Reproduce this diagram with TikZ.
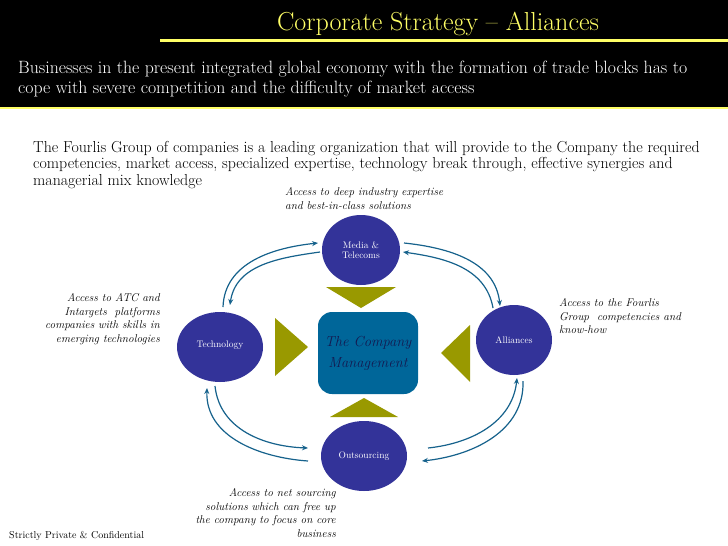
\documentclass[tikz,border=0pt]{standalone}
\usetikzlibrary{arrows.meta}
\definecolor{ttlyel}{RGB}{255,255,102}
\definecolor{circblue}{RGB}{51,51,153}
\definecolor{boxblue}{RGB}{0,102,153}
\definecolor{triolive}{RGB}{153,153,0}
\definecolor{arrblue}{RGB}{22,98,140}
\definecolor{mgmtnavy}{RGB}{20,25,80}
\begin{document}
\begin{tikzpicture}[x=1pt,y=1pt,
  hub/.style={fill=circblue,draw=none},
  circtext/.style={text=white,font=\fontsize{9.5}{10}\selectfont,align=center,inner sep=0pt},
  tri/.style={fill=triolive,draw=none},
  link/.style={draw=arrblue,line width=1.2pt,-{Stealth[length=6pt,width=5pt]}},
  note/.style={font=\fontsize{11.3}{13.8}\itshape,inner sep=0pt},
]
\useasboundingbox (0,0) rectangle (728,-546);
\fill[white] (0,0) rectangle (728,-546);
% header band
\fill[black] (0,0) rectangle (728,-107);
\draw[ttlyel,line width=1.5pt] (0,-108) -- (728,-108);
\draw[ttlyel,line width=3pt] (160,-40) -- (728,-40);
\node[text=ttlyel,font=\fontsize{26}{30}\selectfont,anchor=base,inner sep=0pt] (title) at (438,-30) {Corporate Strategy -- Alliances};
\node[text=white,font=\fontsize{17.8}{20}\selectfont,anchor=north west,align=left,inner sep=0pt] (sub) at (18,-61)
 {Businesses in the present integrated global economy with the formation of trade blocks has to\\
  cope with severe competition and the difficulty of market access};
% intro
\node[font=\fontsize{15.9}{16.5}\selectfont,anchor=north west,align=left,inner sep=0pt] (intro) at (33,-141)
 {The Fourlis Group of companies is a leading organization that will provide to the Company the required\\
  competencies, market access, specialized expertise, technology break through, effective synergies and\\
  managerial mix knowledge};
% hubs
\fill[hub] (361,-250) ellipse [x radius=39,y radius=35];
\node[circtext] (media) at (361,-250) {Media \&\\Telecoms};
\fill[hub] (220,-347) ellipse [x radius=43,y radius=35];
\node[circtext] (tech) at (220,-345) {Technology};
\fill[hub] (514,-340) ellipse [x radius=38,y radius=35];
\node[circtext] (alli) at (514,-340) {Alliances};
\fill[hub] (364,-456) ellipse [x radius=43,y radius=35];
\node[circtext] (outs) at (364,-456) {Outsourcing};
% company box
\node[fill=boxblue,rounded corners=14pt,minimum width=100pt,minimum height=82pt,inner sep=0pt,
  text=mgmtnavy,font=\fontsize{14.5}{21}\itshape,align=center] (comp) at (368,-353) {The Company\\Management};
% triangles
\fill[tri] (326,-287) -- (396,-287) -- (361,-308) -- cycle;
\fill[tri] (330,-417) -- (398,-417) -- (364,-398) -- cycle;
\fill[tri] (275,-318) -- (275,-376) -- (308,-347) -- cycle;
\fill[tri] (470,-325) -- (470,-382) -- (441,-353) -- cycle;
% link end points
\coordinate (tlA) at (223,-307); \coordinate (tlB) at (318,-243);
\coordinate (tlC) at (320,-252); \coordinate (tlD) at (230,-305);
\coordinate (trA) at (404,-243); \coordinate (trB) at (500,-306);
\coordinate (trC) at (493,-308); \coordinate (trD) at (403,-252);
\coordinate (brA) at (428,-448); \coordinate (brB) at (517,-378);
\coordinate (brC) at (523,-381); \coordinate (brD) at (422,-461);
\coordinate (blA) at (215,-386); \coordinate (blB) at (308,-448);
\coordinate (blC) at (308,-461); \coordinate (blD) at (207,-388);
\draw[link] (tlA) to[out=88,in=186] (tlB);
\draw[link] (tlC) to[out=188,in=82] (tlD);
\draw[link] (trA) to[out=-6,in=96] (trB);
\draw[link] (trC) to[out=100,in=-8] (trD);
\draw[link] (brA) to[out=6,in=-96] (brB);
\draw[link] (brC) to[out=-88,in=6] (brD);
\draw[link] (blA) to[out=-84,in=178] (blB);
\draw[link] (blC) to[out=176,in=-92] (blD);
% notes
\node[note,anchor=north west,align=left] (nTop) at (285,-187) {Access to deep industry expertise\\and best-in-class solutions};
\node[note,anchor=north east,align=right] (nLeft) at (160,-293) {Access to ATC and\\Intargets~ platforms\\companies with skills in\\emerging technologies};
\node[note,anchor=north west,align=left] (nRight) at (559,-298) {Access to the Fourlis\\Group~ competencies and\\know-how};
\node[note,anchor=north east,align=right] (nBot) at (336,-488) {Access to net sourcing\\solutions which can free up\\the company to focus on core\\business};
\node[font=\fontsize{10}{11}\selectfont,anchor=base west,inner sep=0pt] (foot) at (9,-538) {Strictly Private \& Confidential};
\end{tikzpicture}
\end{document}
